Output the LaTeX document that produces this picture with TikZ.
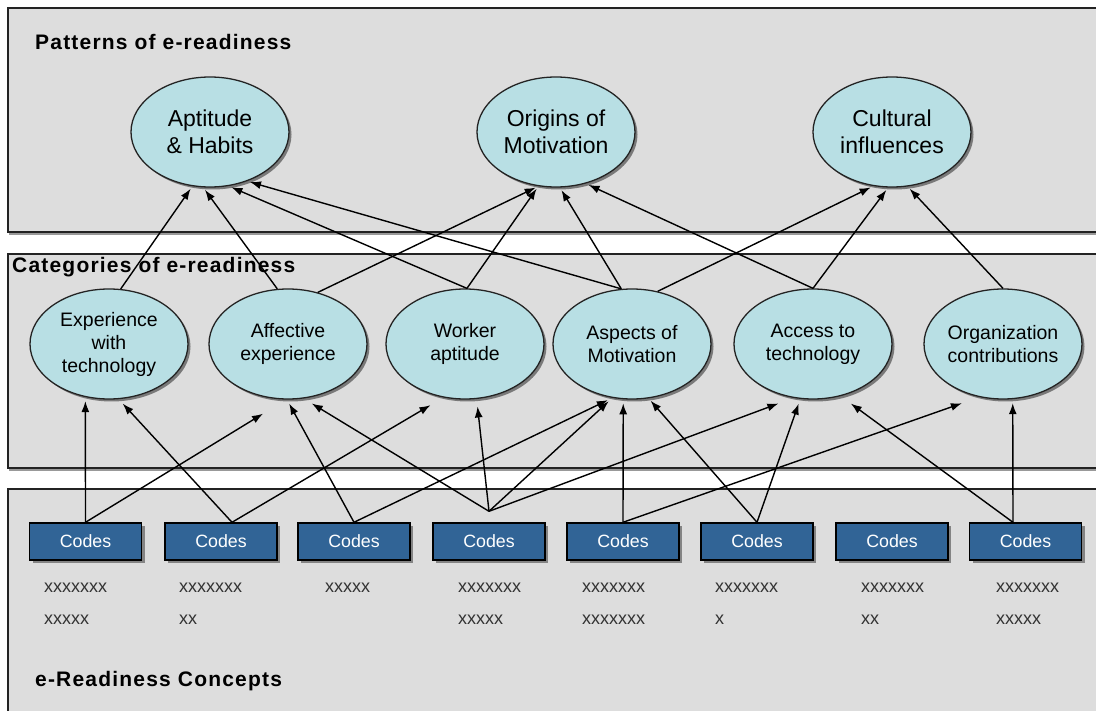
\documentclass[tikz,border=0pt]{standalone}
\usepackage{fontspec}
\setmainfont{Liberation Sans}
\newfontfamily\headfont{Liberation Sans}[LetterSpace=5.7]
\usetikzlibrary{shapes.geometric,arrows.meta,shadows}
\definecolor{bandgray}{RGB}{221,221,221}
\definecolor{ellcyan}{RGB}{184,223,228}
\definecolor{codeblue}{RGB}{49,100,150}
\definecolor{edgegray}{RGB}{35,35,35}
\begin{document}
\begin{tikzpicture}[x=1pt,y=-1pt,
		band/.style={draw=edgegray,line width=1.5pt,fill=bandgray,
			drop shadow={shadow xshift=1pt,shadow yshift=-3pt,fill=black,opacity=.4}},
		cat/.style={ellipse,draw=edgegray,line width=1.3pt,fill=ellcyan,
			minimum width=158pt,minimum height=110pt,inner sep=0pt,align=center,
			font=\fontsize{19.5}{23}\selectfont,
			drop shadow={shadow xshift=2.5pt,shadow yshift=-2.5pt,fill=black,opacity=.45}},
		pat/.style={cat,font=\fontsize{23}{27.5}\selectfont},
		codebox/.style={rectangle,draw=black,line width=1.4pt,fill=codeblue,text=white,
			minimum width=112pt,minimum height=37pt,inner sep=0pt,
			font=\fontsize{17.8}{20}\selectfont,
			drop shadow={shadow xshift=3pt,shadow yshift=-3pt,fill=black,opacity=.4}},
		xtext/.style={anchor=west,inner sep=0pt,text=black!80,font=\fontsize{18}{20}\selectfont},
		head/.style={anchor=base west,inner sep=0pt,font=\headfont\bfseries\fontsize{21}{24}\selectfont},
		arr/.style={-{Latex[length=11pt,width=8pt]},line width=1.4pt,shorten >=3pt}]
	\useasboundingbox (0,0) rectangle (1096,711);
	\clip (0,0) rectangle (1096,711);
	% the three bands
	\draw[band] (8,8) rectangle (1112,232);
	\draw[band] (8,254) rectangle (1112,468);
	\draw[band] (8,489) rectangle (1112,730);
	\node[head] (pattitle) at (35,50) {Patterns of e-readiness};
	\node[head] (cattitle) at (12,273) {Categories of e-readiness};
	\node[head] (contitle) at (35,686) {e-Readiness Concepts};
	% patterns
	\node[pat] (apt) at (210,132) {Aptitude\\\& Habits};
	\node[pat] (ori) at (556,132) {Origins of\\Motivation};
	\node[pat] (cul) at (892,132) {Cultural\\influences};
	% categories
	\node[cat] (exp) at (109,344) {Experience\\with\\technology};
	\node[cat] (aff) at (288,344) {Affective\\experience};
	\node[cat] (wor) at (465,344) {Worker\\aptitude};
	\node[cat] (asp) at (632,344) {Aspects of\\Motivation};
	\node[cat] (acc) at (813,344) {Access to\\technology};
	\node[cat] (org) at (1003,344) {Organization\\contributions};
	% codes
	\foreach \i/\x in {1/85.5,2/221,3/354,4/489,5/623,6/757,7/892,8/1025.5}
		\node[codebox] (code\i) at (\x,541.5) {Codes};
	\node[xtext] (x1a) at (44,588) {xxxxxxx};
	\node[xtext] (x1b) at (44,620) {xxxxx};
	\node[xtext] (x2a) at (179,588) {xxxxxxx};
	\node[xtext] (x2b) at (179,620) {xx};
	\node[xtext] (x3a) at (325,588) {xxxxx};
	\node[xtext] (x4a) at (458,588) {xxxxxxx};
	\node[xtext] (x4b) at (458,620) {xxxxx};
	\node[xtext] (x5a) at (582,588) {xxxxxxx};
	\node[xtext] (x5b) at (582,620) {xxxxxxx};
	\node[xtext] (x6a) at (715,588) {xxxxxxx};
	\node[xtext] (x6b) at (715,620) {x};
	\node[xtext] (x7a) at (861,588) {xxxxxxx};
	\node[xtext] (x7b) at (861,620) {xx};
	\node[xtext] (x8a) at (996,588) {xxxxxxx};
	\node[xtext] (x8b) at (996,620) {xxxxx};
	\coordinate (c2top) at ([xshift=11pt]code2.north);
	\coordinate (c4top) at ([yshift=11pt]code4.north);
	\coordinate (c8top) at ([xshift=-12.5pt]code8.north);
	% categories to patterns
	\draw[arr] (exp.78) -- (apt.252);
	\draw[arr] (aff.101) -- (apt.263);
	\draw[arr] (wor.88) -- (apt.289);
	\draw[arr] (asp.101) -- (apt.307);
	\draw[arr] (aff.60) -- (ori.252);
	\draw[arr] (wor.88) -- (ori.252);
	\draw[arr] (asp.101) -- (ori.274);
	\draw[arr] (acc.90) -- (ori.300);
	\draw[arr] (asp.64) -- (cul.251);
	\draw[arr] (acc.90) -- (cul.266);
	\draw[arr] (org.90) -- (cul.286);
	% codes to categories
	\draw[arr,shorten >=4pt] (code1.north) -- (exp.246);
	\draw[arr,shorten >=27pt] (code1.north) -- (aff.268);
	\draw[arr,shorten >=6pt] (c2top) -- (exp.280);
	\draw[arr,shorten >=15pt] (c2top) -- (wor.248);
	\draw[arr,shorten >=4.5pt] (code3.north) -- (aff.269);
	\draw[arr,shorten >=5pt] (code3.north) -- (asp.250);
	\draw[arr,shorten >=9.5pt] (c4top) -- (aff.286);
	\draw[arr,shorten >=7.5pt] (c4top) -- (wor.282);
	\draw[arr,shorten >=5pt] (c4top) -- (asp.250);
	\draw[arr,shorten >=16pt] (c4top) -- (acc.250);
	\draw[arr,shorten >=4pt] (code5.north) -- (asp.261);
	\draw[arr,shorten >=18.5pt] (code5.north) -- (org.246);
	\draw[arr] (code6.north) -- (asp.287);
	\draw[arr,shorten >=5pt] (code6.north) -- (acc.257);
	\draw[arr,shorten >=12.5pt] (c8top) -- (acc.298);
	\draw[arr,shorten >=4pt] (c8top) -- (org.280);
\end{tikzpicture}
\end{document}
